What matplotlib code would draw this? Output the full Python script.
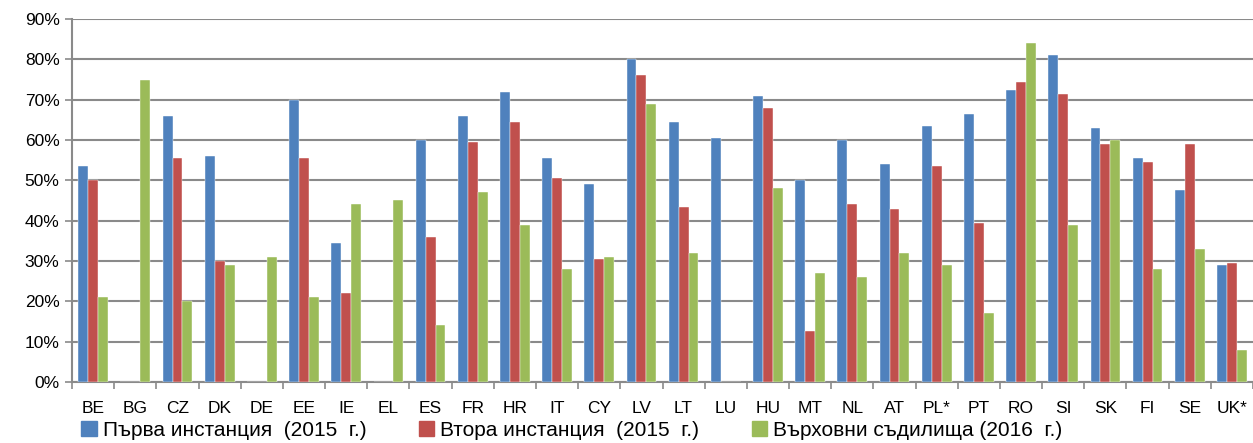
import numpy as np
import matplotlib.pyplot as plt
from matplotlib.patches import Patch
from matplotlib.ticker import FuncFormatter

plt.rcParams['font.family'] = ['Liberation Sans', 'DejaVu Sans']

# Data
countries = ['BE', 'BG', 'CZ', 'DK', 'DE', 'EE', 'IE', 'EL', 'ES', 'FR', 'HR', 'IT', 'CY', 'LV',
             'LT', 'LU', 'HU', 'MT', 'NL', 'AT', 'PL*', 'PT', 'RO', 'SI', 'SK', 'FI', 'SE', 'UK*']
first_inst = [53.5, 0, 66, 56, 0, 70, 34.5, 0, 60, 66, 72, 55.5, 49, 80,
              64.5, 60.5, 71, 50, 60, 54, 63.5, 66.5, 72.5, 81, 63, 55.5, 47.5, 29]
second_inst = [50, 0, 55.5, 30, 0, 55.5, 22, 0, 36, 59.5, 64.5, 50.5, 30.5, 76,
               43.5, 0, 68, 12.5, 44, 43, 53.5, 39.5, 74.5, 71.5, 59, 54.5, 59, 29.5]
supreme = [21, 75, 20, 29, 31, 21, 44, 45, 14, 47, 39, 28, 31, 69,
           32, 0, 48, 27, 26, 32, 29, 17, 84, 39, 60, 28, 33, 8]
labels = ['Първа инстанция  (2015  г.)', 'Втора инстанция  (2015  г.)',
          'Върховни съдилища (2016  г.)']
colors = ['#4F81BD', '#C0504D', '#9BBB59']

fig = plt.figure(figsize=(12.53, 4.43), dpi=100)
ax = fig.add_axes([0.0575, 0.138, 0.9425, 0.819])

x = np.arange(len(countries))
w = 0.235
for i, vals in enumerate([first_inst, second_inst, supreme]):
    ax.bar(x + (i - 1) * w, vals, width=w, color=colors[i], zorder=3,
           edgecolor='white', linewidth=0.3)

ax.set_xlim(-0.5, len(countries) - 0.5)
ax.set_ylim(0, 90)
ax.set_yticks(np.arange(0, 91, 10))
ax.yaxis.set_major_formatter(FuncFormatter(lambda v, p: f'{int(v)}%'))
ax.yaxis.grid(True, color='#8a8a8a', linewidth=1.5, zorder=0)

ax.set_xticks(x)
ax.set_xticklabels(countries)
ax.set_xticks(np.arange(-0.5, len(countries), 1), minor=True)
ax.tick_params(axis='x', which='major', length=0, pad=14, labelsize=12.5)
ax.tick_params(axis='x', which='minor', length=5, color='#8a8a8a', width=1.2)
ax.tick_params(axis='y', length=5, color='#8a8a8a', width=1.2, labelsize=12.5, pad=4)

for s in ['top', 'right']:
    ax.spines[s].set_visible(False)
for s in ['left', 'bottom']:
    ax.spines[s].set_color('#8a8a8a')
    ax.spines[s].set_linewidth(1.5)

handles = [Patch(color=c) for c in colors]
fig.legend(handles, labels, loc='lower left', bbox_to_anchor=(0.058, -0.012), ncol=3,
           frameon=False, fontsize=15, handlelength=0.75, handleheight=0.75,
           handletextpad=0.3, columnspacing=2.5, borderaxespad=0)

fig.savefig('out.png', dpi=100)
